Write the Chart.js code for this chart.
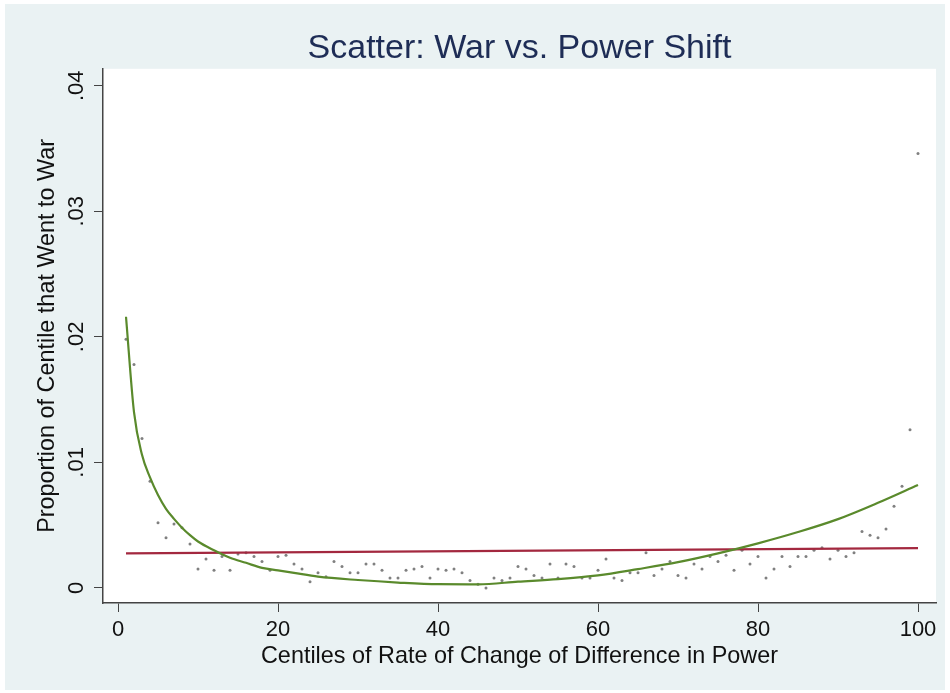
<!DOCTYPE html>
<html>
<head>
<meta charset="utf-8">
<script src="https://cdn.jsdelivr.net/npm/chart.js@4/dist/chart.umd.min.js"></script>
<style>
  html, body { margin: 0; padding: 0; background: #ffffff; }
  #wrap { width: 950px; height: 693px; }
</style>
</head>
<body>
<div id="wrap"><canvas id="c" width="950" height="693"></canvas></div>
<script>
// ---- data ----
const centiles = [1,2,3,4,5,6,7,8,9,10,11,12,13,14,15,16,17,18,19,20,
  21,22,23,24,25,26,27,28,29,30,31,32,33,34,35,36,37,38,39,40,
  41,42,43,44,45,46,47,48,49,50,51,52,53,54,55,56,57,58,59,60,
  61,62,63,64,65,66,67,68,69,70,71,72,73,74,75,76,77,78,79,80,
  81,82,83,84,85,86,87,88,89,90,91,92,93,94,95,96,97,98,99,100];
const warProportion = [0.0198,0.0178,0.0119,0.0085,0.0052,0.0040,0.0051,0.0048,0.0035,0.0015,
  0.0023,0.0014,0.0025,0.0014,0.0027,0.0028,0.0025,0.0021,0.0014,0.0025,
  0.0026,0.0019,0.0015,0.0005,0.0012,0.0009,0.0021,0.0017,0.0012,0.0012,
  0.0019,0.0019,0.0014,0.0008,0.0008,0.0014,0.0015,0.0017,0.0008,0.0015,
  0.0014,0.0015,0.0012,0.0006,0.0003,0.0000,0.0008,0.0006,0.0008,0.0017,
  0.0015,0.0010,0.0008,0.0019,0.0008,0.0019,0.0017,0.0008,0.0008,0.0014,
  0.0023,0.0008,0.0006,0.0012,0.0012,0.0028,0.0010,0.0015,0.0021,0.0010,
  0.0008,0.0019,0.0015,0.0025,0.0021,0.0026,0.0014,0.0030,0.0019,0.0025,
  0.0008,0.0015,0.0025,0.0017,0.0025,0.0025,0.0030,0.0032,0.0023,0.0030,
  0.0025,0.0028,0.0045,0.0042,0.0040,0.0047,0.0065,0.0081,0.0126,0.0346];
const linearFitX = [1, 100];
const linearFitY = [0.00276, 0.00317];
const curveFitX = [1,2,3,4,5,6,7,8,9,10,12,14,16,18,20,22,25,30,35,40,45,50,55,60,65,70,75,80,85,90,95,100];
const curveFitY = [0.0216,0.0140,0.0106,0.0088,0.0074,0.0063,0.0055,0.0048,0.0042,0.0037,
  0.0030,0.0024,0.0020,0.0016,0.0014,0.0012,0.0009,0.00063,0.00043,0.00030,
  0.00029,0.00050,0.00070,0.00100,0.00150,0.00205,0.00275,0.00355,0.00445,0.00548,
  0.00678,0.00820];
const xTicks = [0, 20, 40, 60, 80, 100];
const yTicks = [0, 0.01, 0.02, 0.03, 0.04];
const yTickLabels = ['0', '.01', '.02', '.03', '.04'];

const FONT = "'Liberation Sans', Arial, Helvetica, sans-serif";

const bgPlugin = {
  id: 'bg',
  beforeDraw(chart) {
    const ctx = chart.ctx, a = chart.chartArea;
    ctx.save();
    ctx.fillStyle = '#ffffff';
    ctx.fillRect(0, 0, chart.width, chart.height);
    ctx.fillStyle = '#eaf2f3';
    ctx.fillRect(5, 4, 940, 686);
    ctx.fillStyle = '#ffffff';
    ctx.fillRect(a.left, a.top, a.right - a.left, a.bottom - a.top);
    ctx.restore();
  }
};

new Chart(document.getElementById('c'), {
  type: 'scatter',
  data: {
    datasets: [
      {
        label: 'Proportion',
        data: centiles.map((c, i) => ({x: c, y: warProportion[i]})),
        pointRadius: 1.5,
        pointBackgroundColor: '#808080',
        pointBorderWidth: 0,
        showLine: false,
        order: 3
      },
      {
        label: 'Linear fit',
        type: 'line',
        data: linearFitX.map((x, i) => ({x: x, y: linearFitY[i]})),
        borderColor: '#a3283f',
        borderWidth: 2.2,
        pointRadius: 0,
        fill: false,
        order: 2
      },
      {
        label: 'Curve fit',
        type: 'line',
        data: curveFitX.map((x, i) => ({x: x, y: curveFitY[i]})),
        borderColor: '#5a8a2c',
        borderWidth: 2.2,
        pointRadius: 0,
        cubicInterpolationMode: 'monotone',
        fill: false,
        order: 1
      }
    ]
  },
  options: {
    responsive: false,
    animation: false,
    devicePixelRatio: 1,
    layout: { padding: { left: 0, right: 14, top: 0, bottom: 0 } },
    plugins: {
      legend: { display: false },
      tooltip: { enabled: false },
      title: {
        display: true,
        fullSize: false,
        text: 'Scatter: War vs. Power Shift',
        color: '#1e2d56',
        font: { family: FONT, size: 34, weight: 'normal', lineHeight: 1.2 },
        padding: { top: 28, bottom: 0 }
      }
    },
    scales: {
      x: {
        type: 'linear',
        min: -1.875,
        max: 102.25,
        afterBuildTicks(scale) { scale.ticks = xTicks.map(v => ({value: v})); },
        afterFit(scale) { scale.height = 90; },
        ticks: {
          color: '#111',
          font: { family: FONT, size: 22 },
          padding: 5,
          maxRotation: 0,
          callback: (v) => String(v)
        },
        grid: { drawOnChartArea: false, drawTicks: true, tickLength: 9, color: '#444', lineWidth: 1 },
        border: { display: true, color: '#444', width: 1.5 },
        title: {
          display: true,
          text: 'Centiles of Rate of Change of Difference in Power',
          color: '#111',
          font: { family: FONT, size: 23.4 },
          padding: { top: 0, bottom: 22 }
        }
      },
      y: {
        type: 'linear',
        min: -0.0012,
        max: 0.04135,
        afterBuildTicks(scale) { scale.ticks = yTicks.map(v => ({value: v})); },
        afterFit(scale) { scale.width = 103; },
        ticks: {
          color: '#111',
          font: { family: FONT, size: 22 },
          padding: 2,
          minRotation: 90,
          maxRotation: 90,
          crossAlign: 'center',
          callback: (v) => { const i = yTicks.findIndex(t => Math.abs(t - v) < 1e-9); return i >= 0 ? yTickLabels[i] : ''; }
        },
        grid: { drawOnChartArea: false, drawTicks: true, tickLength: 9, color: '#444', lineWidth: 1 },
        border: { display: true, color: '#444', width: 1.5 },
        title: {
          display: true,
          text: 'Proportion of Centile that Went to War',
          color: '#111',
          font: { family: FONT, size: 23.4 },
          padding: { top: 34, bottom: 0 }
        }
      }
    }
  },
  plugins: [bgPlugin]
});
</script>
</body>
</html>
